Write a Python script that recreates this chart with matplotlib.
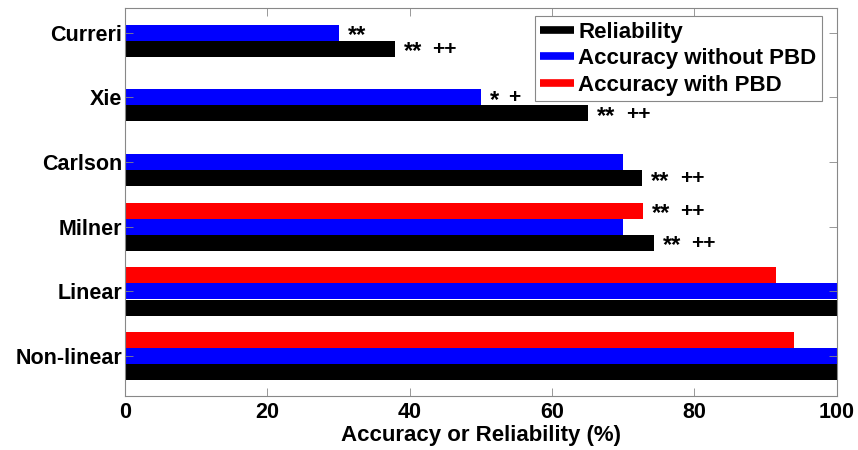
import numpy as np
import matplotlib
matplotlib.use("Agg")
import matplotlib.pyplot as plt
from matplotlib.lines import Line2D

plt.rcParams["font.family"] = ["Liberation Sans", "DejaVu Sans"]

# data, bottom to top
categories = ["Non-linear", "Linear", "Milner", "Carlson", "Xie", "Curreri"]
reliability = [100.0, 100.0, 74.3, 72.7, 65.1, 37.9]
acc_without_pbd = [100.0, 100.0, 70.0, 70.0, 50.0, 30.0]
acc_with_pbd = [94.0, 91.5, 72.8, np.nan, np.nan, np.nan]
series_names = ["Reliability", "Accuracy without PBD", "Accuracy with PBD"]
xticks = [0, 20, 40, 60, 80, 100]

# significance marks: (category, series index, stars, pluses)
marks = [
    ("Curreri", 1, "**", ""),
    ("Curreri", 0, "**", "++"),
    ("Xie", 1, "*", "+"),
    ("Xie", 0, "**", "++"),
    ("Carlson", 0, "**", "++"),
    ("Milner", 2, "**", "++"),
    ("Milner", 0, "**", "++"),
]

colors = ["#000000", "#0000ff", "#ff0000"]
offsets = [-0.25, 0.0, 0.25]
bar_h = 0.247

fig = plt.figure(figsize=(8.58, 4.5), dpi=100)
ax = fig.add_axes([125 / 858, 1 - 396 / 450, 711.7 / 858, 387.7 / 450])

pos = np.arange(1, len(categories) + 1)
values = [reliability, acc_without_pbd, acc_with_pbd]
for vals, off, c in zip(values, offsets, colors):
    ax.barh(pos + off, vals, height=bar_h, color=c, edgecolor="none")

star_size = 17
for cat, si, stars, pluses in marks:
    i = categories.index(cat)
    xy = (values[si][i], pos[i] + offsets[si])
    ax.annotate(stars, xy=xy, xytext=(6.5, -0.4 * star_size), textcoords="offset points",
                va="baseline", ha="left", fontsize=star_size, fontweight="bold")
    if pluses:
        dx = 6.5 + (len(stars) * 9.7 + 9) * 0.72
        ax.annotate(pluses, xy=xy, xytext=(dx, -0.5), textcoords="offset points",
                    va="center", ha="left", fontsize=15, fontweight="bold")

ax.set_xlim(0, 100)
ax.set_ylim(0.385, 6.375)
ax.set_xticks(xticks)
ax.set_xticklabels([str(t) for t in xticks], fontsize=15.5, fontweight="bold")
ax.set_yticks(pos)
ax.set_yticklabels(categories, fontsize=15.5, fontweight="bold")
ax.tick_params(direction="in", length=6, width=0.6, color="#888888",
               top=True, right=True)
ax.tick_params(axis="x", pad=4.5)
ax.tick_params(axis="y", pad=2)
for s in ax.spines.values():
    s.set_color("#888888")
    s.set_linewidth(0.8)

ax.set_xlabel("Accuracy or Reliability (%)", fontsize=16, fontweight="bold", labelpad=1)

handles = [Line2D([0], [0], color=c, lw=5.5, solid_capstyle="butt") for c in colors]
leg = ax.legend(handles, series_names, loc="upper right", bbox_to_anchor=(0.979, 0.980),
                borderaxespad=0, fancybox=False, framealpha=1, edgecolor="#888888",
                prop={"size": 16, "weight": "bold"}, handlelength=1.5, handletextpad=0.2,
                borderpad=0.25, labelspacing=0.25)
leg.get_frame().set_linewidth(0.8)

fig.savefig("out.png", dpi=100)
